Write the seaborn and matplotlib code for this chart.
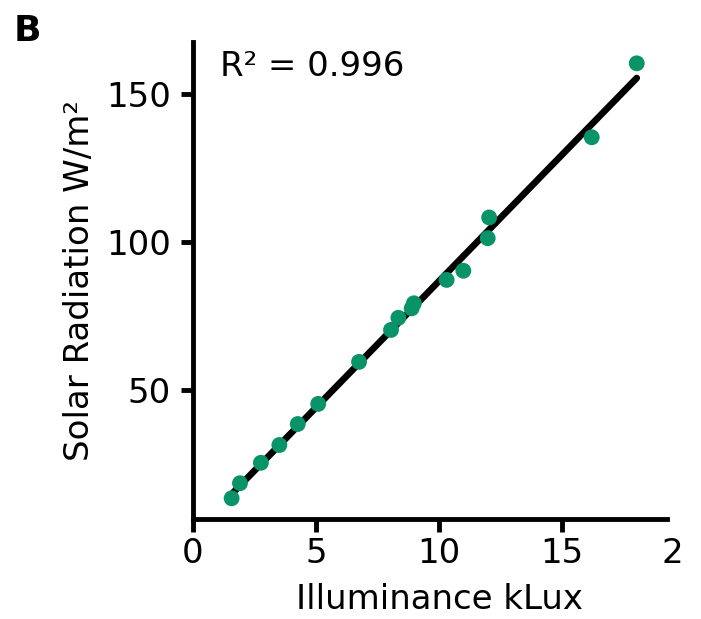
import matplotlib
matplotlib.use("Agg")
import matplotlib.pyplot as plt
import seaborn as sns
import pandas as pd

# Data
illuminance_klux = [1.57, 1.91, 2.76, 3.51, 4.26, 5.09, 6.75, 8.05, 8.35, 8.89,
                    8.98, 10.31, 10.99, 11.98, 12.04, 16.21, 18.04]
solar_radiation = [13.4, 18.5, 25.4, 31.4, 38.5, 45.3, 59.5, 70.3, 74.4, 77.6,
                   79.3, 87.2, 90.3, 101.3, 108.3, 135.4, 160.4]
x_ticks = [0, 5, 10, 15]
x_tick_labels = ["0", "5", "10", "15"]
extra_tick_label = "2"
extra_tick_pos = 19.5
y_ticks = [50, 100, 150]
r2_text = "R\u00b2 = 0.996"
panel_label = "B"

df = pd.DataFrame({"Illuminance kLux": illuminance_klux,
                   "Solar Radiation W/m\u00b2": solar_radiation})

sns.set_style("ticks")
plt.rcParams["font.family"] = ["DejaVu Sans"]
plt.rcParams.update({
    "text.color": "black",
    "axes.labelcolor": "black",
    "axes.edgecolor": "black",
    "xtick.color": "black",
    "ytick.color": "black",
})

fig = plt.figure(figsize=(7.01, 6.19), dpi=100)
ax = fig.add_axes([193 / 701, 1 - 519 / 619, (667 - 193) / 701, (519 - 42) / 619])

green = "#089468"
sns.regplot(data=df, x="Illuminance kLux", y="Solar Radiation W/m\u00b2", ax=ax,
            ci=None, truncate=True,
            scatter_kws=dict(s=130, color=green, edgecolor="none", alpha=1, zorder=3),
            line_kws=dict(color="black", lw=4.8, solid_capstyle="round", zorder=2))

ax.set_xlim(0, 19.27)
ax.set_ylim(6.4, 167.6)
ax.set_xticks(x_ticks)
ax.set_xticklabels(x_tick_labels)
ax.set_yticks(y_ticks)

sns.despine(ax=ax)
for sp in ["left", "bottom"]:
    ax.spines[sp].set_linewidth(3.5)
    ax.spines[sp].set_color("black")
ax.tick_params(axis="both", length=9, width=3.5, labelsize=24.5, colors="black")
ax.tick_params(axis="x", pad=4)
ax.tick_params(axis="y", pad=7)

ax.set_xlabel("Illuminance kLux", fontsize=24.5, color="black")
ax.set_ylabel("Solar Radiation W/m\u00b2", fontsize=24.5, labelpad=7, color="black")
ax.xaxis.set_label_coords((439 - 193) / 474, -0.135)

# stray tick label at the right end of the x axis
ax.annotate(extra_tick_label, xy=(extra_tick_pos, 0),
            xycoords=("data", "axes fraction"),
            xytext=(0, -13), textcoords="offset points",
            ha="center", va="top", fontsize=24.5, color="black",
            annotation_clip=False)

ax.text(0.057, 0.948, r2_text, transform=ax.transAxes, fontsize=24.5,
        ha="left", va="center", color="black")
fig.text(14 / 701, 1 - 41 / 619, panel_label, fontsize=26, fontweight="bold",
         ha="left", va="baseline", color="black")

fig.savefig("out.png", dpi=100)
